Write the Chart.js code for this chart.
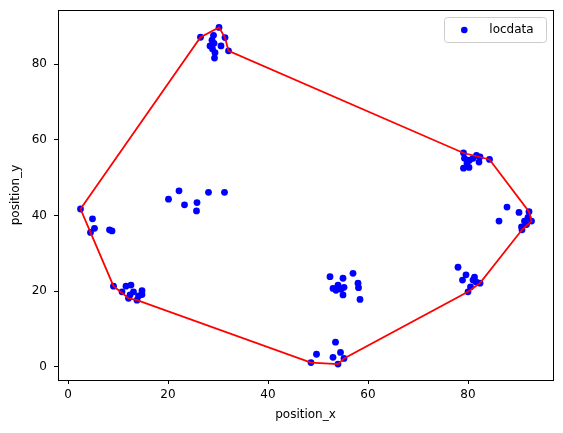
<!DOCTYPE html>
<html>
<head>
<meta charset="utf-8">
<script src="https://cdn.jsdelivr.net/npm/chart.js@4"></script>
<style>
  body { margin: 0; background: #fff; }
  #wrap { width: 563px; height: 433px; position: relative; }
</style>
</head>
<body>
<div id="wrap"><canvas id="scatter-chart"></canvas></div>
<script>
// location points
const pointX = [
  26.5, 30.2, 29.1, 28.8, 31.4, 32.1, 30.6, 28.4, 29.2, 29.4, 29.3, 28.9,
  2.5, 4.9, 5.3, 4.5, 8.3, 8.8,
  20.1, 22.2, 23.3, 25.8, 25.7, 28.1, 31.3,
  9.1, 12.1, 13.8, 10.8, 11.6, 12.6, 14.8, 14.8, 13.1, 14.1, 12.4,
  48.6, 49.7, 54.0, 53.0, 54.5, 55.2, 53.5,
  52.4, 55.0, 57.0, 58.0, 58.1, 53.0, 54.0, 54.6, 55.0, 53.6, 58.4, 55.2,
  78.0, 79.6, 78.9, 81.3, 81.0, 82.4, 80.5, 80.0, 81.6,
  86.2, 87.8, 90.2, 92.2, 92.7, 91.3, 90.7, 91.7, 90.8, 92.0,
  79.1, 79.3, 79.1, 80.2, 79.8, 80.3, 81.7, 82.2, 84.3, 81.0, 82.4
];
const pointY = [
  87.1, 89.7, 87.6, 86.3, 87.0, 83.5, 84.8, 84.8, 85.5, 83.0, 81.6, 84.0,
  41.7, 39.1, 36.6, 35.5, 36.2, 35.9,
  44.3, 46.5, 42.8, 43.4, 41.2, 46.1, 46.1,
  21.3, 18.1, 17.6, 19.8, 21.3, 21.6, 20.1, 19.1, 19.8, 18.7, 19.0,
  1.1, 3.3, 0.7, 2.5, 3.8, 2.2, 6.5,
  23.8, 23.4, 24.7, 22.1, 20.9, 20.7, 21.6, 20.5, 19.0, 20.2, 17.8, 21.0,
  26.3, 24.3, 22.9, 23.7, 22.9, 22.1, 21.1, 19.8, 22.4,
  38.5, 42.2, 40.8, 41.0, 38.5, 38.5, 37.0, 37.6, 36.2, 39.5,
  56.5, 55.1, 52.5, 52.7, 53.8, 54.6, 55.9, 54.1, 54.8, 55.1, 55.5
];

// convex hull vertices (closed)
const hullX = [2.5, 26.5, 30.2, 31.4, 32.1, 79.1, 84.3, 92.2, 92.7, 90.8, 82.4, 80.0, 55.2, 54.0, 48.6, 13.8, 12.1, 9.1, 4.5, 2.5];
const hullY = [41.7, 87.1, 89.7, 87.0, 83.5, 56.5, 54.8, 41.0, 38.5, 36.2, 22.1, 19.8, 2.2, 0.7, 1.1, 17.6, 18.1, 21.3, 35.5, 41.7];

const xTicks = [0, 20, 40, 60, 80];
const yTicks = [0, 20, 40, 60, 80];

const font = { family: "'DejaVu Sans'", size: 12 };

// no extra room for half tick labels, the plot box is fixed
function noPad(s) {
  s.paddingTop = 0; s.paddingBottom = 0; s.paddingLeft = 0; s.paddingRight = 0;
}

// box around the plot + matplotlib style legend
const frame = {
  id: 'frame',
  afterDraw(chart) {
    const { ctx, chartArea: a } = chart;
    ctx.save();
    ctx.strokeStyle = '#000';
    ctx.lineWidth = 1;
    ctx.strokeRect(Math.round(a.left) + 0.5, Math.round(a.top) + 0.5,
      Math.round(a.right - a.left), Math.round(a.bottom - a.top));

    // legend
    const lx = 444.5, ly = 17.5, lw = 102, lh = 25;
    ctx.beginPath();
    ctx.roundRect(lx, ly, lw, lh, 3);
    ctx.fillStyle = 'rgba(255,255,255,0.8)';
    ctx.fill();
    ctx.strokeStyle = '#cccccc';
    ctx.stroke();
    ctx.beginPath();
    ctx.arc(464.3, 30, 3.3, 0, Math.PI * 2);
    ctx.fillStyle = '#0000ff';
    ctx.fill();
    ctx.fillStyle = '#000';
    ctx.font = "12px 'DejaVu Sans'";
    ctx.textBaseline = 'middle';
    ctx.fillText(chart.data.datasets[1].label, 489.3, 29.5);
    ctx.restore();
  }
};

new Chart(document.getElementById("scatter-chart"), {
  type: 'scatter',
  data: {
    datasets: [
      {
        label: 'hull',
        data: hullX.map((x, i) => ({ x: x, y: hullY[i] })),
        showLine: true,
        borderColor: '#ff0000',
        borderWidth: 1.8,
        pointRadius: 0,
        fill: false,
        order: 0
      },
      {
        label: 'locdata',
        data: pointX.map((x, i) => ({ x: x, y: pointY[i] })),
        backgroundColor: '#0000ff',
        borderColor: '#0000ff',
        borderWidth: 0,
        pointRadius: 3.4,
        order: 1
      }
    ]
  },
  options: {
    responsive: true,
    maintainAspectRatio: false,
    animation: false,
    layout: { padding: { left: 0, right: 10, top: 10, bottom: 0 } },
    plugins: {
      legend: { display: false },
      tooltip: { enabled: false }
    },
    scales: {
      x: {
        type: 'linear',
        min: -2,
        max: 97,
        afterBuildTicks: s => { s.ticks = xTicks.map(v => ({ value: v })); },
        afterFit: s => { s.height = 53; noPad(s); },
        ticks: { color: '#000', font: font, padding: 4, maxRotation: 0 },
        grid: { display: true, drawOnChartArea: false, drawTicks: true, tickLength: 4, color: '#000' },
        border: { display: false },
        title: { display: true, text: 'position_x', color: '#000', font: font, padding: { top: 0, bottom: 11 } }
      },
      y: {
        type: 'linear',
        min: -3.5,
        max: 94.3,
        afterBuildTicks: s => { s.ticks = yTicks.map(v => ({ value: v })); },
        afterFit: s => { s.width = 58; noPad(s); },
        ticks: { color: '#000', font: font, padding: 7 },
        grid: { display: true, drawOnChartArea: false, drawTicks: true, tickLength: 4, color: '#000' },
        border: { display: false },
        title: { display: true, text: 'position_y', color: '#000', font: font, padding: { top: 9, bottom: 0 } }
      }
    }
  },
  plugins: [frame]
});
</script>
</body>
</html>
